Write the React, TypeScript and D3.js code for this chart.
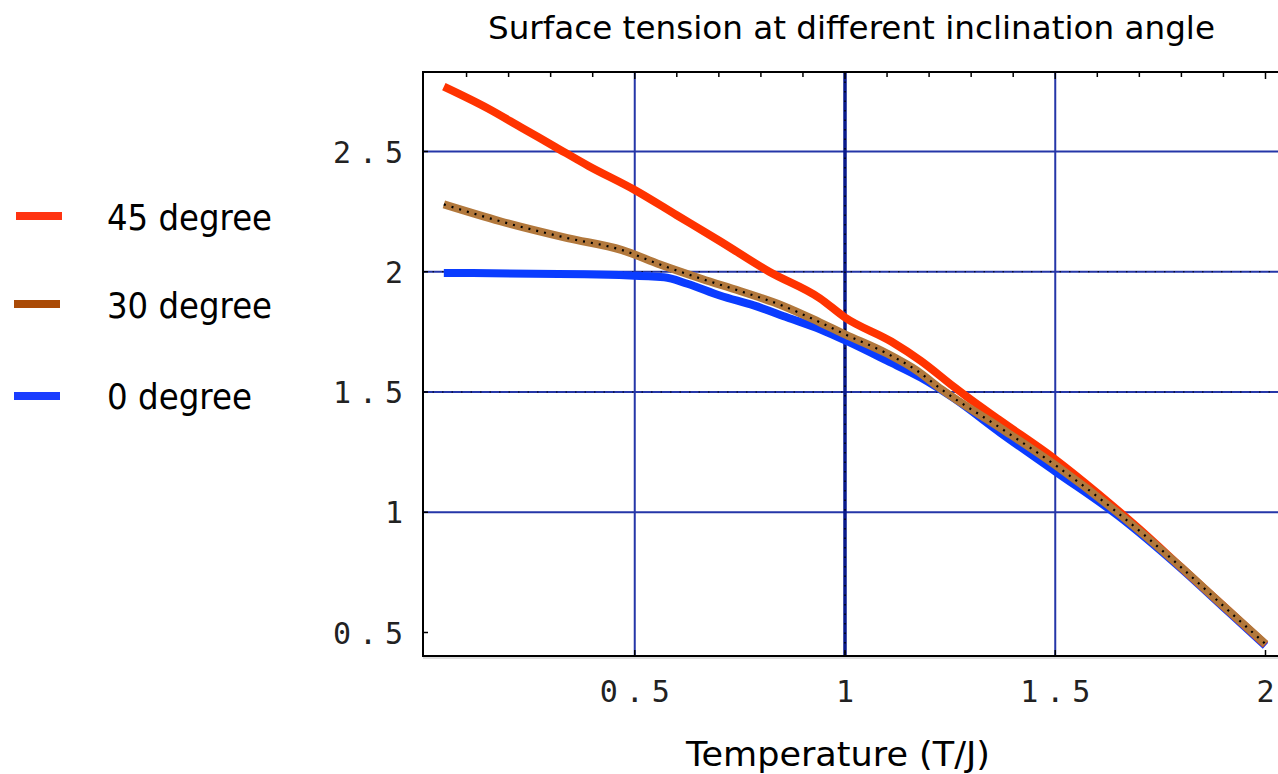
import React from "react";
import * as d3 from "d3";

const TITLE = "Surface tension at different inclination angle";
const X_LABEL = "Temperature (T/J)";

const SERIES_NAMES = ["45 degree", "30 degree", "0 degree"];
const LEGEND_COLORS = ["#ff3311", "#aa4a06", "#1a3dff"];
const LINE_COLORS = ["#ff3300", "#b2783c", "#0a3cff"];

// Temperature (T/J) and surface tension values
const T45 = [0.046, 0.15, 0.23, 0.31, 0.39, 0.5, 0.6, 0.7, 0.82, 0.94, 1.0, 1.11, 1.18, 1.26, 1.29, 1.37, 1.5, 1.6, 1.7, 1.8, 1.9, 2.0];
const V45 = [2.77, 2.68, 2.6, 2.52, 2.44, 2.34, 2.235, 2.13, 2.0, 1.89, 1.81, 1.71, 1.63, 1.52, 1.48, 1.38, 1.22, 1.08, 0.93, 0.77, 0.61, 0.45];

const T30 = [0.046, 0.18, 0.34, 0.47, 0.56, 0.66, 0.75, 0.85, 0.94, 1.0, 1.1, 1.17, 1.23, 1.37, 1.5, 1.647, 1.8, 1.9, 2.0];
const V30 = [2.28, 2.21, 2.14, 2.09, 2.03, 1.97, 1.92, 1.86, 1.79, 1.74, 1.66, 1.59, 1.51, 1.35, 1.196, 1.0, 0.77, 0.61, 0.452];

const T0 = [0.046, 0.38, 0.57, 0.625, 0.704, 0.783, 0.863, 0.942, 1.006, 1.1, 1.18, 1.258, 1.37, 1.5, 1.65, 1.8, 1.9, 2.0];
const V0 = [1.995, 1.99, 1.977, 1.95, 1.9, 1.86, 1.81, 1.76, 1.71, 1.63, 1.56, 1.475, 1.33, 1.17, 0.985, 0.765, 0.605, 0.445];

const X_TICKS = [0.5, 1, 1.5, 2];
const X_TICK_LABELS = ["0.5", "1", "1.5", "2"];
const Y_TICKS = [0.5, 1, 1.5, 2, 2.5];
const Y_TICK_LABELS = ["0.5", "1", "1.5", "2", "2.5"];
const X_GRID = [0.5, 1, 1.5];
const Y_GRID = [1, 1.5, 2, 2.5];
const MINOR_TOP = d3.range(1, 21).map((i) => i / 10);

export default function App() {
  const W = 1278;
  const H = 774;
  const x = d3.scaleLinear().domain([0, 2]).range([424.5, 1265.5]);
  const y = d3.scaleLinear().domain([0.5, 2.5]).range([632.5, 151.5]);
  const left = 423;
  const top = 72;
  const bottom = 656;
  const right = W;

  const line = d3
    .line<[number, number]>()
    .x((d) => x(d[0]))
    .y((d) => y(d[1]))
    .curve(d3.curveMonotoneX);

  const red = line(T45.map((t, i) => [t, V45[i]]) as [number, number][]) || "";
  const brown = line(T30.map((t, i) => [t, V30[i]]) as [number, number][]) || "";
  const blue = line(T0.map((t, i) => [t, V0[i]]) as [number, number][]) || "";

  const gridBlue = "#2536a8";
  const sans = "'DejaVu Sans', Verdana, sans-serif";
  const mono = "'DejaVu Sans Mono', 'Liberation Mono', monospace";

  const legendY = [216, 304, 396];
  const legendBase = [230, 318, 409];
  const legendLen = [165, 165, 145];

  return (
    <div style={{ position: "absolute", left: 0, top: 0 }}>
      <svg width={W} height={H} style={{ display: "block", background: "#ffffff" }}>
        {/* grid lines */}
        {Y_GRID.map((v) => (
          <g key={"yg" + v}>
            <line x1={left} x2={right} y1={y(v)} y2={y(v)} stroke={gridBlue} strokeWidth={2} />
            {(v === 2 || v === 1.5) && (
              <line x1={left} x2={right} y1={y(v)} y2={y(v)} stroke="#000" strokeWidth={1.2} strokeDasharray="1.5 8" />
            )}
          </g>
        ))}
        {X_GRID.map((t) => (
          <g key={"xg" + t}>
            <line
              x1={x(t)}
              x2={x(t)}
              y1={top}
              y2={bottom}
              stroke={t === 1 ? "#0a1a8c" : gridBlue}
              strokeWidth={t === 1 ? 3.5 : 2}
            />
            {t === 1 && (
              <line x1={x(t)} x2={x(t)} y1={top} y2={bottom} stroke="#000" strokeWidth={1.5} strokeDasharray="1.5 8" />
            )}
          </g>
        ))}

        {/* curves */}
        <path d={blue} fill="none" stroke={LINE_COLORS[2]} strokeWidth={8} />
        <path d={red} fill="none" stroke={LINE_COLORS[0]} strokeWidth={8} />
        <path d={brown} fill="none" stroke={LINE_COLORS[1]} strokeWidth={8} />
        <path d={brown} fill="none" stroke="#000" strokeWidth={2.2} strokeDasharray="2 6" />

        {/* frame */}
        <line x1={left} x2={right} y1={top} y2={top} stroke="#000" strokeWidth={2} />
        <line x1={left} x2={left} y1={top - 1} y2={bottom + 1} stroke="#000" strokeWidth={2} />
        <line x1={left} x2={right} y1={bottom} y2={bottom} stroke="#000" strokeWidth={2} />
        <line x1={left} x2={right} y1={bottom + 2} y2={bottom + 2} stroke="#bbbbbb" strokeWidth={1} />
        {MINOR_TOP.map((t) => (
          <line
            key={"mt" + t}
            x1={x(t)}
            x2={x(t)}
            y1={top}
            y2={top + (Math.abs(t * 2 - Math.round(t * 2)) < 1e-9 ? 7 : 5)}
            stroke="#000"
            strokeWidth={1.5}
          />
        ))}
        {X_TICKS.map((t) => (
          <line key={"xt" + t} x1={x(t)} x2={x(t)} y1={bottom} y2={bottom - 6} stroke="#000" strokeWidth={1.5} />
        ))}
        {Y_TICKS.map((v) => (
          <line key={"yt" + v} x1={left} x2={left + 5} y1={y(v)} y2={y(v)} stroke="#000" strokeWidth={1.5} />
        ))}

        {/* tick labels */}
        {Y_TICKS.map((v, i) => {
          const s = Y_TICK_LABELS[i];
          return (
            <text
              key={"yl" + v}
              x={403}
              y={y(v) + 11}
              textAnchor="end"
              fontFamily={mono}
              fontSize={30}
              fill="#222"
              {...(s.length > 1 ? { textLength: 70, lengthAdjust: "spacing" } : {})}
            >
              {s}
            </text>
          );
        })}
        {X_TICKS.map((t, i) => {
          const s = X_TICK_LABELS[i];
          return (
            <text
              key={"xl" + t}
              x={x(t)}
              y={702}
              textAnchor="middle"
              fontFamily={mono}
              fontSize={30}
              fill="#222"
              {...(s.length > 1 ? { textLength: 70, lengthAdjust: "spacing" } : {})}
            >
              {s}
            </text>
          );
        })}

        {/* title and axis label */}
        <text x={851.5} y={39} textAnchor="middle" fontFamily={sans} fontSize={32} fill="#000" textLength={727} lengthAdjust="spacingAndGlyphs">
          {TITLE}
        </text>
        <text x={838} y={766} textAnchor="middle" fontFamily={sans} fontSize={34} fill="#000" textLength={304} lengthAdjust="spacingAndGlyphs">
          {X_LABEL}
        </text>

        {/* legend */}
        {SERIES_NAMES.map((name, i) => (
          <g key={name}>
            <line x1={i === 0 ? 16 : 14} x2={i === 0 ? 62 : 60} y1={legendY[i]} y2={legendY[i]} stroke={LEGEND_COLORS[i]} strokeWidth={8} />
            <text
              x={107}
              y={legendBase[i]}
              fontFamily={sans}
              fontSize={35}
              fill="#000"
              textLength={legendLen[i]}
              lengthAdjust="spacingAndGlyphs"
            >
              {name}
            </text>
          </g>
        ))}
      </svg>
    </div>
  );
}
